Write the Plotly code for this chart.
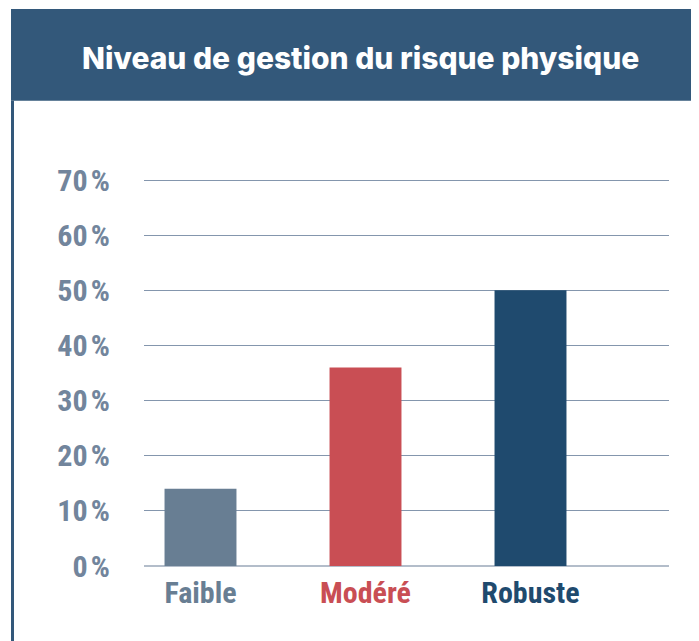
import plotly.graph_objects as go

categories = ["Faible", "Modéré", "Robuste"]
values = [14, 36, 50]
bar_colors = ["#687e93", "#c94e54", "#1f4a6e"]
label_colors = ["#687e93", "#c94e54", "#1f4a6e"]
y_ticks = [0, 10, 20, 30, 40, 50, 60, 70]
y_tick_labels = [f"{v}\u200a%" for v in y_ticks]
title_text = "Niveau de gestion du risque physique"

# figure is drawn inside the page body (8px offset)
W, H = 691, 633
ML, MR, MT, MB = 136, 30, 161, 75
pw, ph = W - ML - MR, H - MT - MB

def px_x(p):
    return (p - ML) / pw

def px_y(p):
    return (H - MB - p) / ph

COND = "font-stretch:condensed"

def cond(text, color=None):
    st = COND + (f";color:{color}" if color else "")
    return f"<span style='{st}'><b>{text}</b></span>"

xs = list(range(len(categories)))
fig = go.Figure(go.Bar(
    x=xs, y=values, marker=dict(color=bar_colors, line=dict(width=0)),
    width=0.436, hoverinfo="skip",
))

fig.update_layout(
    width=W, height=H,
    margin=dict(l=ML, r=MR, t=MT, b=MB),
    paper_bgcolor="white", plot_bgcolor="white",
    showlegend=False,
    xaxis=dict(
        range=[-0.3424, 2.8394],
        tickvals=xs,
        ticktext=[cond(t, c) for t, c in zip(categories, label_colors)],
        tickfont=dict(family="Roboto, sans-serif", size=30),
        showgrid=False, zeroline=False, showline=False,
        ticks="outside", ticklen=0, tickcolor="rgba(0,0,0,0)",
        fixedrange=True,
    ),
    yaxis=dict(
        range=[0, 72],
        tickvals=y_ticks,
        ticktext=[cond(t) for t in y_tick_labels],
        tickfont=dict(family="Roboto, sans-serif", size=30, color="#72859c"),
        showgrid=True, gridcolor="#8496ad", gridwidth=1,
        zeroline=True, zerolinecolor="#b3bdca", zerolinewidth=2,
        showline=False,
        ticks="outside", ticklen=27, tickcolor="rgba(0,0,0,0)",
        fixedrange=True,
    ),
    shapes=[
        dict(type="rect", xref="paper", yref="paper",
             x0=px_x(3), x1=px_x(700), y0=px_y(92.7), y1=px_y(1),
             fillcolor="#33587a", line=dict(width=0), layer="below"),
        dict(type="line", xref="paper", yref="paper",
             x0=px_x(4.5), x1=px_x(4.5), y0=px_y(640), y1=px_y(92.7),
             line=dict(color="#33587a", width=3)),
    ],
    annotations=[
        dict(text=title_text, xref="paper", yref="paper",
             x=px_x(352), y=px_y(50), xanchor="center", yanchor="middle",
             showarrow=False,
             font=dict(family="Inter, Roboto, sans-serif", size=30, weight=800, color="white")),
    ],
)

fig.write_html("out.html")
